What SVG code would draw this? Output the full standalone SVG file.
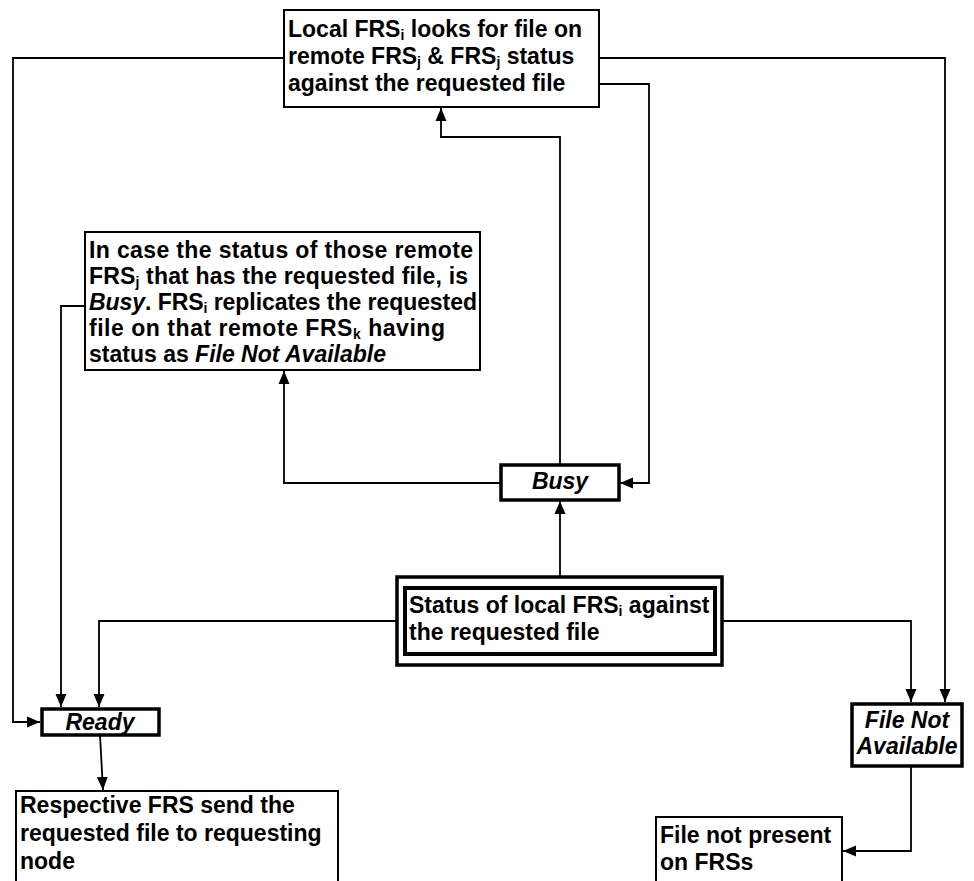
<svg xmlns="http://www.w3.org/2000/svg" width="974" height="881" viewBox="0 0 974 881">
  <style>
    .box { fill: #fff; stroke: #000; stroke-width: 2; }
    .state { fill: #fff; stroke: #000; stroke-width: 3.5; }
    .txt { font-family: "Liberation Sans", Arial, sans-serif; font-weight: bold; font-size: 23px; fill: #000; }
    .it { font-style: italic; }
    .sub { font-size: 14px; }
    .conn { fill: none; stroke: #000; stroke-width: 1.8; }
  </style>
  <defs>
    <marker id="arrow" markerUnits="userSpaceOnUse" markerWidth="14" markerHeight="14" viewBox="0 0 14 14" refX="13" refY="7" orient="auto">
      <path d="M0,1.5 L13,7 L0,12.5 Z" fill="#000"/>
    </marker>
  </defs>
  <rect width="974" height="881" fill="#fff"/>

  <g id="connectors">
    <path class="conn" d="M284,58 H13 V722 H40" marker-end="url(#arrow)"/>
    <path class="conn" d="M599,58 H945 V702" marker-end="url(#arrow)"/>
    <path class="conn" d="M599,84 H649 V483 H620" marker-end="url(#arrow)"/>
    <path class="conn" d="M560,464 V137 H441 V108" marker-end="url(#arrow)"/>
    <path class="conn" d="M501,483 H284 V371" marker-end="url(#arrow)"/>
    <path class="conn" d="M85,306 H61 V707" marker-end="url(#arrow)"/>
    <path class="conn" d="M396,621 H99 V707" marker-end="url(#arrow)"/>
    <path class="conn" d="M723,621 H911 V702" marker-end="url(#arrow)"/>
    <path class="conn" d="M560,576 V501" marker-end="url(#arrow)"/>
    <path class="conn" d="M911,766 V851 H843" marker-end="url(#arrow)"/>
    <path class="conn" d="M100,735 L103,790" marker-end="url(#arrow)"/>
  </g>

  <g id="lookup-remote">
    <rect class="box" x="284" y="10" width="315" height="97"/>
    <text class="txt" x="288" y="37">Local FRS<tspan class="sub" dy="3">i</tspan><tspan dy="-3"> looks for file on</tspan></text>
    <text class="txt" x="288" y="64">remote FRS<tspan class="sub" dy="3">j</tspan><tspan dy="-3"> &amp; FRS</tspan><tspan class="sub" dy="3">j</tspan><tspan dy="-3"> status</tspan></text>
    <text class="txt" x="288" y="91">against the requested file</text>
  </g>

  <g id="replicate">
    <rect class="box" x="85" y="232" width="395" height="138"/>
    <text class="txt" x="89" y="258" textLength="384" lengthAdjust="spacing">In case the status of those remote</text>
    <text class="txt" x="89" y="284" textLength="379" lengthAdjust="spacing">FRS<tspan class="sub" dy="3">j</tspan><tspan dy="-3"> that has the requested file, is</tspan></text>
    <text class="txt" x="89" y="310" textLength="388" lengthAdjust="spacing"><tspan class="it">Busy</tspan>. FRS<tspan class="sub" dy="3">i</tspan><tspan dy="-3"> replicates the requested</tspan></text>
    <text class="txt" x="89" y="336" textLength="356" lengthAdjust="spacing">file on that remote FRS<tspan class="sub" dy="3">k</tspan><tspan dy="-3"> having</tspan></text>
    <text class="txt" x="89" y="362">status as <tspan class="it">File Not Available</tspan></text>
  </g>

  <g id="busy">
    <rect class="state" x="501" y="465" width="118" height="35"/>
    <text class="txt it" x="560" y="489" text-anchor="middle">Busy</text>
  </g>

  <g id="local-status">
    <rect fill="#fff" stroke="#000" stroke-width="3.5" x="397" y="577" width="325" height="88"/>
    <rect fill="none" stroke="#000" stroke-width="4" x="405" y="588" width="310" height="66"/>
    <text class="txt" x="409" y="613">Status of local FRS<tspan class="sub" dy="3">i</tspan><tspan dy="-3"> against</tspan></text>
    <text class="txt" x="409" y="640">the requested file</text>
  </g>

  <g id="ready">
    <rect class="state" x="42" y="709" width="117" height="26"/>
    <text class="txt it" x="100" y="730" text-anchor="middle">Ready</text>
  </g>

  <g id="file-not-available">
    <rect class="state" x="852" y="704" width="110" height="62"/>
    <text class="txt it" x="907" y="728" text-anchor="middle">File Not</text>
    <text class="txt it" x="907" y="754" text-anchor="middle">Available</text>
  </g>

  <g id="send-file">
    <rect class="box" x="16" y="791" width="322" height="100"/>
    <text class="txt" x="20" y="813">Respective FRS send the</text>
    <text class="txt" x="20" y="841">requested file to requesting</text>
    <text class="txt" x="20" y="869">node</text>
  </g>

  <g id="not-present">
    <rect class="box" x="656" y="817" width="186" height="80"/>
    <text class="txt" x="660" y="843">File not present</text>
    <text class="txt" x="660" y="870">on FRSs</text>
  </g>
</svg>
